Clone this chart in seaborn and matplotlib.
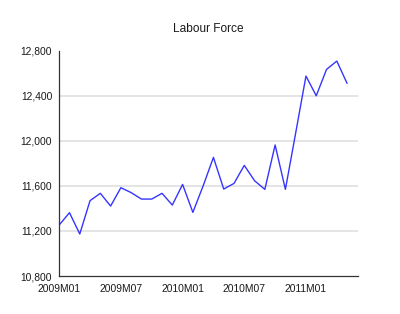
import matplotlib
matplotlib.use("Agg")
import matplotlib.pyplot as plt
import seaborn as sns
import pandas as pd
import numpy as np

months = ["2009M01","2009M02","2009M03","2009M04","2009M05","2009M06",
          "2009M07","2009M08","2009M09","2009M10","2009M11","2009M12",
          "2010M01","2010M02","2010M03","2010M04","2010M05","2010M06",
          "2010M07","2010M08","2010M09","2010M10","2010M11","2010M12",
          "2011M01","2011M02","2011M03","2011M04","2011M05"]
labour_force = [11253, 11362, 11173, 11469, 11534, 11421,
                11584, 11540, 11483, 11483, 11534, 11430,
                11613, 11365, 11600, 11853, 11572, 11622,
                11782, 11646, 11569, 11963, 11569, 12070,
                12575, 12400, 12634, 12708, 12510]
tick_labels = ["2009M01", "2009M07", "2010M01", "2010M07", "2011M01"]
y_ticks = [10800, 11200, 11600, 12000, 12400, 12800]

sns.set_style("white")
plt.rcParams['font.family'] = ['Liberation Sans', 'DejaVu Sans']

df = pd.DataFrame({"idx": np.arange(len(months)), "month": months, "value": labour_force})

fig = plt.figure(figsize=(4.0, 3.14), dpi=100)
ax = fig.add_axes([0.148, 0.121, 0.748, 0.7175])

for v in y_ticks[1:-1]:
    ax.axhline(v, color="#e2e2e2", lw=1.3, zorder=0)

sns.lineplot(data=df, x="idx", y="value", ax=ax, color="#3535ff", lw=1.0)

ax.set_xlim(0, 29.1)
ax.set_ylim(10800, 12800)
ax.set_yticks(y_ticks)
ax.set_yticklabels([f"{v:,}" for v in y_ticks])
ax.set_xticks([months.index(t) for t in tick_labels])
ax.set_xticklabels(tick_labels)
ax.set_xlabel("")
ax.set_ylabel("")

for s in ["top", "right"]:
    ax.spines[s].set_visible(False)
for s in ["left", "bottom"]:
    ax.spines[s].set_color("#333333")
    ax.spines[s].set_linewidth(0.9)

ax.tick_params(axis="both", which="major", length=3.5, width=0.8, color="#333333",
               labelsize=7.4, labelcolor="#1a1a1a", pad=1.5, direction="out")
ax.tick_params(axis="x", pad=2.2)

ax.set_title("Labour Force", fontsize=8.6, color="#1a1a1a", pad=13.5)

fig.savefig("out.png", dpi=100)
